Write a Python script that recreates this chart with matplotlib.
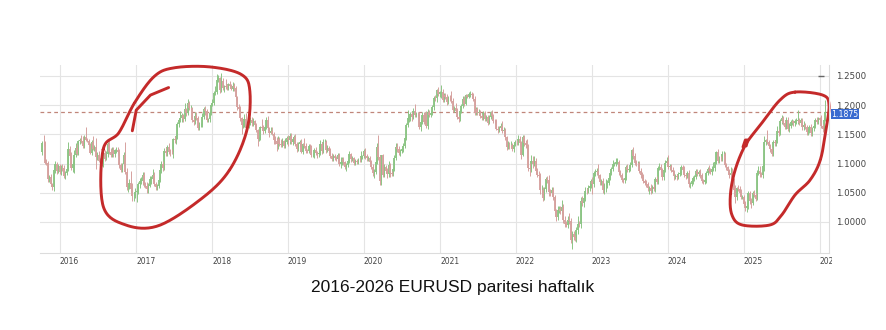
import numpy as np
import pandas as pd
import matplotlib
matplotlib.use("Agg")
import matplotlib.pyplot as plt
from matplotlib.transforms import Bbox

# weekly EURUSD candles: closes, plus wick lengths in pips
# above / below the candle body (open = previous close)
first_open = 1.1190
close_2015 = [1.1358, 1.1350, 1.1017, 1.1004, 1.0740, 1.0772, 1.0645, 1.0592, 1.0881, 1.0989,
              1.0866, 1.0963, 1.0862]
up_2015 = [30, 137, 40, 60, 40, 30, 45, 25, 100, 60, 45, 30, 35]
dn_2015 = [40, 45, 30, 35, 50, 50, 35, 45, 68, 50, 40, 35, 40]

close_2016 = [1.0927, 1.0917, 1.0793, 1.0832, 1.0906, 1.1255, 1.1130, 1.0931, 1.0999, 1.1153,
              1.1268, 1.1167, 1.1390, 1.1401, 1.1385, 1.1298, 1.1453, 1.1403, 1.1385, 1.1315,
              1.1185, 1.1369, 1.1251, 1.1280, 1.1119, 1.1140, 1.1050, 1.1034, 1.0978, 1.1175,
              1.1085, 1.1160, 1.1326, 1.1198, 1.1153, 1.1234, 1.1154, 1.1225, 1.1237, 1.1202,
              1.0970, 1.0882, 1.0985, 1.1140, 1.0858, 1.0590, 1.0590, 1.0665, 1.0562, 1.0450,
              1.0451, 1.0517]
up_2016 = [45, 60, 50, 40, 70, 120, 50, 70, 50, 70, 75, 60, 20,
           40, 80, 90, 30, 163, 30, 40, 35, 30, 100, 40, 148, 50,
           70, 50, 60, 20, 60, 60, 40, 90, 60, 40, 50, 30, 50,
           40, 40, 40, 20, 50, 220, 60, 30, 65, 209, 110, 40, 70]
dn_2016 = [65, 45, 40, 50, 30, 40, 30, 40, 70, 160, 40, 20, 30,
           60, 40, 30, 25, 15, 20, 15, 20, 40, 20, 40, 207, 60,
           30, 30, 25, 40, 40, 30, 50, 40, 40, 40, 40, 50, 50,
           50, 40, 30, 30, 20, 40, 40, 70, 30, 57, 84, 98, 45]

close_2017 = [1.0531, 1.0644, 1.0696, 1.0698, 1.0798, 1.0640, 1.0618, 1.0562, 1.0620, 1.0727,
              1.0740, 1.0797, 1.0652, 1.0593, 1.0615, 1.0722, 1.0897, 1.0998, 1.0930, 1.1206,
              1.1182, 1.1281, 1.1197, 1.1196, 1.1195, 1.1424, 1.1399, 1.1472, 1.1668, 1.1751,
              1.1773, 1.1822, 1.1761, 1.1926, 1.1860, 1.2035, 1.1948, 1.1948, 1.1736, 1.1713,
              1.1820, 1.1782, 1.1607, 1.1662, 1.1665, 1.1799, 1.1933, 1.1896, 1.1747, 1.1755,
              1.1871, 1.2005]
up_2017 = [90, 40, 50, 70, 50, 60, 50, 60, 40, 60, 50, 110, 50,
           30, 30, 50, 60, 50, 40, 60, 80, 30, 70, 50, 50, 20,
           50, 30, 40, 25, 130, 40, 30, 110, 30, 60, 40, 60, 20,
           40, 60, 60, 30, 50, 30, 60, 30, 50, 40, 30, 20, 30]
dn_2017 = [177, 60, 60, 40, 60, 40, 30, 70, 60, 30, 70, 40, 40,
           40, 50, 30, 30, 60, 50, 40, 60, 60, 40, 70, 30, 100,
           40, 60, 60, 40, 50, 60, 50, 40, 40, 30, 40, 40, 20,
           60, 40, 30, 40, 30, 40, 40, 30, 60, 30, 40, 50, 40]

close_2018 = [1.2030, 1.2202, 1.2220, 1.2427, 1.2460, 1.2252, 1.2405, 1.2294, 1.2318, 1.2307,
              1.2289, 1.2354, 1.2322, 1.2281, 1.2330, 1.2287, 1.2130, 1.1960, 1.1939, 1.1771,
              1.1655, 1.1659, 1.1768, 1.1610, 1.1655, 1.1684, 1.1745, 1.1686, 1.1720, 1.1658,
              1.1568, 1.1412, 1.1436, 1.1623, 1.1604, 1.1558, 1.1625, 1.1747, 1.1604, 1.1525,
              1.1560, 1.1510, 1.1404, 1.1388, 1.1339, 1.1418, 1.1341, 1.1316, 1.1379, 1.1307,
              1.1370, 1.1444, 1.1395]
up_2018 = [70, 40, 100, 110, 60, 20, 150, 60, 30, 130, 60, 30, 50,
           30, 70, 40, 30, 30, 60, 40, 30, 40, 70, 100, 40, 20,
           50, 50, 60, 30, 30, 30, 20, 20, 130, 50, 20, 40, 70,
           20, 70, 60, 30, 60, 70, 50, 30, 70, 60, 30, 70, 20, 50]
dn_2018 = [25, 30, 30, 30, 40, 40, 30, 40, 80, 40, 40, 30, 30,
           30, 40, 50, 40, 50, 40, 50, 150, 40, 30, 70, 20, 50,
           30, 40, 50, 40, 30, 110, 30, 30, 30, 50, 30, 30, 30,
           70, 20, 30, 70, 60, 120, 90, 50, 40, 40, 40, 40, 40, 90]

close_2019 = [1.1467, 1.1367, 1.1415, 1.1457, 1.1326, 1.1245, 1.1335, 1.1365, 1.1198, 1.1326,
              1.1303, 1.1217, 1.1216, 1.1298, 1.1296, 1.1150, 1.1151, 1.1234, 1.1177, 1.1158,
              1.1188, 1.1333, 1.1210, 1.1370, 1.1373, 1.1224, 1.1270, 1.1218, 1.1127, 1.1080,
              1.1121, 1.1094, 1.1081, 1.1145, 1.0989, 1.1027, 1.1073, 1.1018, 1.0940, 1.0978,
              1.1043, 1.1157, 1.1080, 1.1091, 1.1017, 1.1049, 1.1024, 1.1061, 1.1059, 1.1121,
              1.1122, 1.1213]
up_2019 = [60, 50, 40, 30, 40, 50, 40, 40, 60, 30, 110, 40, 30,
           40, 40, 20, 30, 30, 40, 30, 40, 70, 40, 50, 50, 30,
           40, 30, 40, 60, 40, 50, 40, 30, 40, 80, 40, 40, 30,
           30, 40, 50, 30, 40, 20, 30, 30, 40, 50, 90, 30, 40]
dn_2019 = [60, 40, 50, 50, 30, 40, 30, 60, 20, 40, 40, 40, 40,
           40, 50, 40, 40, 60, 40, 70, 40, 40, 50, 30, 40, 40,
           30, 40, 40, 30, 30, 40, 40, 40, 40, 60, 60, 50, 40,
           60, 40, 30, 50, 40, 40, 40, 40, 40, 40, 40, 40, 30]

close_2020 = [1.1121, 1.1091, 1.1093, 1.1030, 1.0945, 1.0830, 1.0847, 1.1026, 1.1284, 1.1106,
              1.0694, 1.1142, 1.0801, 1.0935, 1.0876, 1.0824, 1.0982, 1.0837, 1.0819, 1.0904,
              1.1098, 1.1289, 1.1256, 1.1177, 1.1220, 1.1248, 1.1302, 1.1428, 1.1656, 1.1778,
              1.1789, 1.1842, 1.1795, 1.1905, 1.1837, 1.1845, 1.1838, 1.1632, 1.1715, 1.1825,
              1.1716, 1.1860, 1.1647, 1.1876, 1.1834, 1.1860, 1.1962, 1.2123, 1.2114, 1.2256,
              1.2187, 1.2216]
up_2020 = [50, 40, 30, 40, 30, 40, 60, 70, 70, 211, 40, 5, 20,
           50, 40, 50, 60, 30, 40, 40, 40, 60, 70, 40, 30, 40,
           40, 30, 40, 130, 30, 40, 40, 40, 106, 40, 40, 40, 30,
           50, 50, 20, 30, 50, 40, 30, 40, 30, 50, 20, 50, 30]
dn_2020 = [40, 40, 50, 30, 40, 50, 70, 30, 30, 50, 58, 58, 30,
           40, 40, 70, 60, 60, 40, 40, 30, 30, 60, 40, 50, 40,
           50, 30, 30, 30, 70, 60, 60, 40, 50, 40, 30, 40, 70,
           40, 40, 40, 40, 60, 40, 40, 30, 40, 40, 60, 40, 50]

close_2021 = [1.2220, 1.2083, 1.2171, 1.2136, 1.2047, 1.2119, 1.2117, 1.2075, 1.1914, 1.1951,
              1.1905, 1.1795, 1.1763, 1.1900, 1.1983, 1.2097, 1.2022, 1.2165, 1.2145, 1.2180,
              1.2192, 1.2170, 1.2107, 1.1864, 1.1937, 1.1865, 1.1874, 1.1811, 1.1771, 1.1869,
              1.1762, 1.1795, 1.1698, 1.1793, 1.1874, 1.1812, 1.1728, 1.1719, 1.1595, 1.1574,
              1.1600, 1.1645, 1.1559, 1.1567, 1.1446, 1.1288, 1.1319, 1.1315, 1.1317, 1.1241,
              1.1323, 1.1370]
up_2021 = [129, 60, 40, 40, 60, 40, 60, 130, 50, 30, 80, 40, 20,
           40, 30, 50, 50, 30, 30, 40, 50, 30, 40, 40, 30, 30,
           50, 40, 40, 30, 30, 30, 40, 30, 30, 40, 30, 30, 40,
           50, 40, 50, 90, 50, 40, 30, 60, 50, 60, 40, 30, 30]
dn_2021 = [90, 40, 40, 30, 40, 30, 50, 40, 40, 40, 30, 30, 60,
           30, 30, 30, 40, 30, 30, 30, 40, 50, 40, 30, 30, 40,
           40, 40, 20, 30, 30, 30, 40, 30, 30, 40, 30, 40, 30,
           50, 30, 30, 30, 30, 40, 60, 40, 60, 40, 30, 50, 30]

close_2022 = [1.1360, 1.1412, 1.1342, 1.1144, 1.1454, 1.1349, 1.1322, 1.1271, 1.0930, 1.0913,
              1.1050, 1.0985, 1.1050, 1.0878, 1.0808, 1.0786, 1.0545, 1.0552, 1.0411, 1.0560,
              1.0733, 1.0719, 1.0517, 1.0497, 1.0555, 1.0426, 1.0183, 1.0080, 1.0212, 1.0225,
              1.0182, 1.0259, 1.0040, 0.9963, 0.9955, 1.0040, 1.0012, 0.9690, 0.9800, 0.9737,
              0.9720, 0.9860, 0.9965, 0.9960, 1.0355, 1.0325, 1.0403, 1.0535, 1.0530, 1.0585,
              1.0620, 1.0703]
up_2022 = [40, 70, 50, 40, 30, 40, 50, 90, 60, 80, 90, 80, 80,
           40, 40, 60, 60, 80, 40, 40, 40, 60, 80, 50, 50, 50,
           40, 40, 60, 50, 50, 110, 50, 60, 60, 70, 110, 60, 50,
           50, 40, 50, 130, 60, 70, 90, 70, 60, 40, 50, 40, 30]
dn_2022 = [40, 40, 40, 70, 20, 50, 50, 180, 60, 120, 50, 60, 30,
           50, 40, 70, 70, 80, 60, 40, 40, 50, 70, 60, 40, 50,
           80, 60, 40, 60, 40, 40, 50, 50, 40, 60, 40, 55, 154,
           50, 40, 60, 60, 50, 60, 50, 70, 40, 50, 40, 60, 40]

close_2023 = [1.0645, 1.0834, 1.0855, 1.0869, 1.0795, 1.0678, 1.0694, 1.0547, 1.0633, 1.0640,
              1.0670, 1.0760, 1.0840, 1.0905, 1.0990, 1.0990, 1.1019, 1.1020, 1.0850, 1.0804,
              1.0720, 1.0710, 1.0750, 1.0940, 1.0890, 1.0910, 1.0970, 1.1230, 1.1125, 1.1015,
              1.1005, 1.1010, 1.0875, 1.0795, 1.0775, 1.0700, 1.0660, 1.0650, 1.0575, 1.0585,
              1.0530, 1.0595, 1.0565, 1.0730, 1.0685, 1.0915, 1.0940, 1.0885, 1.0765, 1.0895,
              1.1015, 1.1040]
up_2023 = [60, 40, 50, 60, 130, 30, 40, 50, 40, 100, 40, 50, 40,
           30, 70, 40, 80, 70, 40, 40, 40, 40, 40, 30, 60, 40,
           60, 20, 46, 50, 40, 40, 40, 40, 60, 40, 30, 50, 40,
           30, 60, 40, 50, 40, 60, 40, 70, 60, 40, 40, 40, 70]
dn_2023 = [160, 40, 40, 50, 40, 50, 40, 50, 60, 120, 60, 40, 40,
           40, 40, 40, 40, 30, 40, 40, 40, 40, 40, 40, 40, 40,
           40, 30, 50, 40, 40, 40, 40, 40, 40, 30, 30, 50, 40,
           100, 50, 40, 40, 50, 40, 30, 30, 30, 40, 40, 40, 40]

close_2024 = [1.0940, 1.0950, 1.0895, 1.0855, 1.0785, 1.0785, 1.0775, 1.0820, 1.0840, 1.0935,
              1.0890, 1.0810, 1.0790, 1.0840, 1.0645, 1.0655, 1.0695, 1.0760, 1.0770, 1.0870,
              1.0820, 1.0850, 1.0800, 1.0700, 1.0690, 1.0715, 1.0840, 1.0910, 1.0880, 1.0855,
              1.0910, 1.0915, 1.1025, 1.1190, 1.1050, 1.1085, 1.1075, 1.1165, 1.1165, 1.0975,
              1.0935, 1.0865, 1.0795, 1.0835, 1.0720, 1.0540, 1.0420, 1.0575, 1.0565, 1.0500,
              1.0430, 1.0430, 1.0310]
up_2024 = [100, 40, 40, 40, 40, 40, 30, 40, 40, 40, 40, 60, 30,
           30, 50, 30, 40, 30, 40, 30, 30, 40, 50, 40, 30, 30,
           30, 30, 60, 40, 40, 110, 40, 20, 50, 40, 40, 50, 49,
           40, 30, 30, 40, 100, 80, 40, 90, 30, 60, 50, 60, 40, 40]
dn_2024 = [40, 50, 40, 40, 60, 50, 60, 40, 40, 40, 40, 40, 60,
           40, 40, 60, 40, 40, 60, 30, 40, 40, 40, 30, 40, 40,
           40, 30, 40, 40, 60, 40, 40, 40, 40, 40, 40, 40, 40,
           40, 40, 40, 40, 40, 40, 60, 90, 40, 40, 40, 30, 40, 40]

close_2025 = [1.0245, 1.0270, 1.0495, 1.0365, 1.0330, 1.0495, 1.0460, 1.0400, 1.0835, 1.0880,
              1.0815, 1.0805, 1.0955, 1.1360, 1.1395, 1.1365, 1.1300, 1.1250, 1.1165, 1.1365,
              1.1345, 1.1395, 1.1550, 1.1525, 1.1720, 1.1780, 1.1690, 1.1625, 1.1740, 1.1590,
              1.1640, 1.1705, 1.1720, 1.1685, 1.1720, 1.1735, 1.1745, 1.1700, 1.1745, 1.1620,
              1.1655, 1.1625, 1.1535, 1.1565, 1.1620, 1.1515, 1.1600, 1.1640, 1.1740, 1.1710,
              1.1770, 1.1745]
up_2025 = [50, 70, 40, 30, 40, 40, 60, 40, 50, 70, 70, 40, 40,
           110, 30, 178, 40, 40, 40, 40, 40, 60, 90, 40, 40, 50,
           40, 50, 50, 50, 60, 40, 40, 30, 40, 40, 173, 40, 30,
           40, 70, 40, 40, 40, 40, 50, 30, 40, 30, 60, 30, 30]
dn_2025 = [60, 67, 40, 60, 90, 40, 40, 40, 30, 40, 40, 40, 60,
           80, 40, 40, 40, 60, 40, 40, 40, 40, 40, 60, 40, 40,
           40, 40, 40, 40, 50, 40, 40, 40, 40, 40, 60, 40, 40,
           50, 40, 40, 40, 40, 40, 50, 40, 40, 40, 40, 40, 40]

close_2026 = [1.1640, 1.1595, 1.1750, 1.1875]
up_2026 = [80, 40, 30, 205]
dn_2026 = [40, 60, 40, 20]

segments = [("2015-10-05", close_2015, up_2015, dn_2015),
            ("2016-01-04", close_2016, up_2016, dn_2016),
            ("2017-01-02", close_2017, up_2017, dn_2017),
            ("2018-01-01", close_2018, up_2018, dn_2018),
            ("2019-01-07", close_2019, up_2019, dn_2019),
            ("2020-01-06", close_2020, up_2020, dn_2020),
            ("2021-01-04", close_2021, up_2021, dn_2021),
            ("2022-01-03", close_2022, up_2022, dn_2022),
            ("2023-01-02", close_2023, up_2023, dn_2023),
            ("2024-01-01", close_2024, up_2024, dn_2024),
            ("2025-01-06", close_2025, up_2025, dn_2025),
            ("2026-01-05", close_2026, up_2026, dn_2026)]

last_price = 1.1875
years = list(range(2016, 2027))
price_ticks = [1.0000, 1.0500, 1.1000, 1.1500, 1.2000, 1.2500]

frames = []
for start, c, u, d in segments:
    days = pd.date_range(start, periods=len(c), freq="7D") + pd.Timedelta(days=2)
    frames.append(pd.DataFrame({"date": days, "close": c, "up": u, "dn": d}))
df = pd.concat(frames, ignore_index=True)
df["open"] = df["close"].shift(1).fillna(first_open)
df["high"] = df[["open", "close"]].max(axis=1) + df["up"] / 10000
df["low"] = df[["open", "close"]].min(axis=1) - df["dn"] / 10000
rise = df["close"] >= df["open"]

fig = plt.figure(figsize=(8.86, 3.30), dpi=100)
ax = fig.add_axes([40 / 886, 77 / 330, 789 / 886, 188 / 330])

green, red = "#8cc585", "#d6a19e"
for mask, col in [(rise, green), (~rise, red)]:
    ax.vlines(df["date"][mask], df["low"][mask], df["high"][mask], color=col, lw=0.7)
    ax.vlines(df["date"][mask], df["open"][mask], df["close"][mask], color=col, lw=1.35)

ax.axhline(last_price, color="#c0867a", lw=0.9, ls=(0, (3, 2.5)), zorder=1)
ax.plot(pd.Timestamp("2026-01-05"), 1.25, marker="_", ms=5, color="#666666", mew=1)

ax.set_xlim(pd.Timestamp("2015-09-27"), pd.Timestamp("2026-02-14"))
ax.set_ylim(0.947, 1.2684)

ax.set_xticks([pd.Timestamp(f"{y}-01-01") for y in years])
ax.set_xticklabels([str(y) for y in years], fontsize=5.5, color="#444444", ha="left")
ax.xaxis.set_tick_params(length=0, pad=3)
ax.yaxis.tick_right()
ax.set_yticks(price_ticks)
ax.set_yticklabels([f"{p:.4f}" for p in price_ticks], fontsize=6.2, color="#444444")
ax.yaxis.set_tick_params(length=0, pad=5)
ax.grid(True, color="#e4e4e4", lw=0.8)
ax.set_axisbelow(True)
for s in ["top", "left"]:
    ax.spines[s].set_visible(False)
for s in ["bottom", "right"]:
    ax.spines[s].set_color("#dcdcdc")

# cut the last year label at the price axis, like the screenshot
clip = Bbox.from_extents(0, 0, 832, 330)
for lbl in ax.get_xticklabels():
    lbl.set_clip_box(clip)
    lbl.set_clip_on(True)

ax.text(1.003, last_price - 0.0030, f"{last_price:.4f}", transform=ax.get_yaxis_transform(),
        fontsize=5.6, color="white", va="center", ha="left",
        bbox=dict(boxstyle="square,pad=0.1", fc="#3a6bd0", ec="none"))

# hand drawn red loops (axes fraction)
loop1 = [(0.080, 0.55), (0.080, 0.25), (0.108, 0.15), (0.150, 0.145), (0.205, 0.29),
         (0.240, 0.44), (0.262, 0.65), (0.266, 0.86), (0.255, 0.95), (0.215, 0.99),
         (0.170, 0.985), (0.145, 0.94), (0.120, 0.80), (0.100, 0.64), (0.080, 0.55)]
stroke1 = [(0.117, 0.65), (0.122, 0.76), (0.140, 0.84), (0.163, 0.88)]
loop2 = [(0.957, 0.856), (0.992, 0.840), (1.000, 0.787), (0.996, 0.654), (0.989, 0.495),
         (0.976, 0.388), (0.957, 0.309), (0.940, 0.202), (0.925, 0.149), (0.890, 0.149),
         (0.877, 0.202), (0.875, 0.309), (0.881, 0.441), (0.894, 0.574), (0.913, 0.681),
         (0.938, 0.814), (0.957, 0.856)]
stroke2 = [(0.891, 0.564), (0.894, 0.601), (0.897, 0.601), (0.895, 0.569)]


def smooth(pts, n=20):
    p = np.array(pts)
    out = []
    for i in range(1, len(p) - 2):
        p0, p1, p2, p3 = p[i - 1], p[i], p[i + 1], p[i + 2]
        t = np.linspace(0, 1, n)[:, None]
        out.append(0.5 * ((2 * p1) + (-p0 + p2) * t + (2 * p0 - 5 * p1 + 4 * p2 - p3) * t ** 2
                          + (-p0 + 3 * p1 - 3 * p2 + p3) * t ** 3))
    return np.vstack(out)


for pts in [loop1, loop2]:
    c = smooth([pts[-2]] + pts + [pts[1]])
    ax.plot(c[:, 0], c[:, 1], color="#c42a2a", lw=2.1, transform=ax.transAxes,
            clip_on=False, solid_capstyle="round")
for pts in [stroke1, stroke2]:
    c = np.array(pts)
    ax.plot(c[:, 0], c[:, 1], color="#c42a2a", lw=2.1, transform=ax.transAxes,
            clip_on=False, solid_capstyle="round")

fig.text(0.511, 0.13, "2016-2026 EURUSD paritesi haftalık", fontsize=12.5,
         family="Liberation Sans", ha="center", va="center", color="#111111")

fig.savefig("out.png", dpi=100)
